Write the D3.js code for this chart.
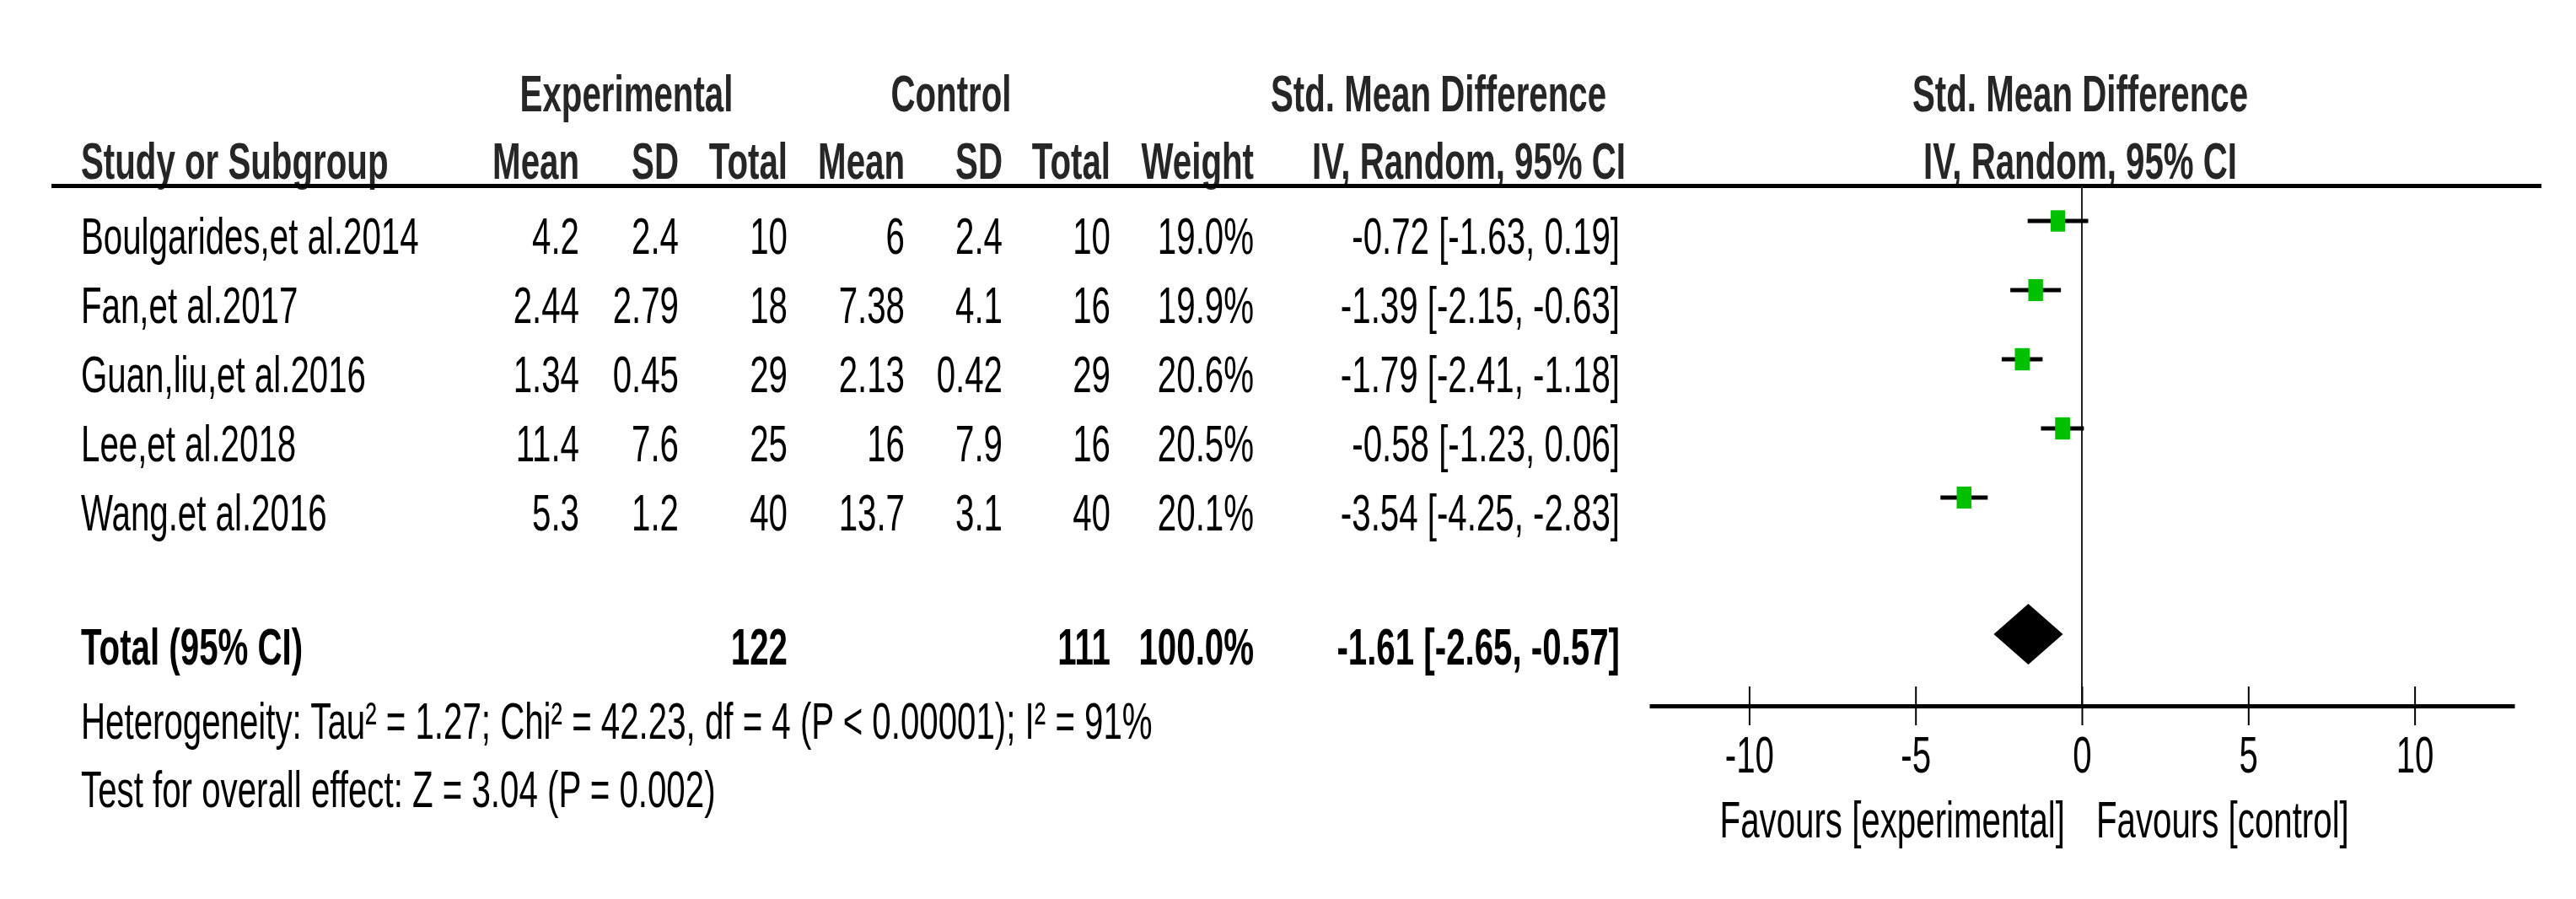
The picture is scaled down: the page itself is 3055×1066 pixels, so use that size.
<!DOCTYPE html>
<html>
<head>
<meta charset="utf-8">
<script src="https://cdn.jsdelivr.net/npm/d3@7"></script>
<style>
  body { margin: 0; background: #fff; }
  text { font-family: "Liberation Sans", Arial, sans-serif; font-size: 61px; fill: #000; }
</style>
</head>
<body>
<div id="chart"></div>
<script>
// Study data
const studies = ['Boulgarides,et al.2014', 'Fan,et al.2017', 'Guan,liu,et al.2016', 'Lee,et al.2018', 'Wang.et al.2016'];
const expMean = [4.2, 2.44, 1.34, 11.4, 5.3];
const expSD = [2.4, 2.79, 0.45, 7.6, 1.2];
const expTotal = [10, 18, 29, 25, 40];
const ctlMean = [6, 7.38, 2.13, 16, 13.7];
const ctlSD = [2.4, 4.1, 0.42, 7.9, 3.1];
const ctlTotal = [10, 16, 29, 16, 40];
const weights = [19.0, 19.9, 20.6, 20.5, 20.1];
const smd = [-0.72, -1.39, -1.79, -0.58, -3.54];
const ciLow = [-1.63, -2.15, -2.41, -1.23, -4.25];
const ciHigh = [0.19, -0.63, -1.18, 0.06, -2.83];

// Pooled result
const pooled = { expTotal: 122, ctlTotal: 111, weight: 100.0, smd: -1.61, low: -2.65, high: -0.57 };
const heterogeneity = 'Heterogeneity: Tau\u00b2 = 1.27; Chi\u00b2 = 42.23, df = 4 (P < 0.00001); I\u00b2 = 91%';
const overallEffect = 'Test for overall effect: Z = 3.04 (P = 0.002)';
const axisTicks = [-10, -5, 0, 5, 10];

const width = 3055;
const height = 1066;
const SX = 0.66; // text is condensed in the reference

const svg = d3.select('#chart').append('svg')
    .attr('width', width)
    .attr('height', height);

function txt(x, y, s, anchor, bold, color) {
    return svg.append('text')
        .attr('transform', `translate(${x},${y}) scale(${SX},1)`)
        .attr('text-anchor', anchor || 'start')
        .style('font-weight', bold ? 'bold' : 'normal')
        .style('fill', color || '#000')
        .text(s);
}

const f2 = v => v.toFixed(2);
const ciText = (m, lo, hi) => `${f2(m)} [${f2(lo)}, ${f2(hi)}]`;

// Column right edges
const col = { name: 96, eMean: 687, eSD: 805, eTot: 934, cMean: 1073, cSD: 1189, cTot: 1317, weight: 1487, ci: 1921 };

// Headers
const hc = '#262626';
txt(743, 132, 'Experimental', 'middle', true, hc);
txt(1128, 132, 'Control', 'middle', true, hc);
txt(1706, 132, 'Std. Mean Difference', 'middle', true, hc);
txt(2467, 132, 'Std. Mean Difference', 'middle', true, hc);
txt(col.name, 212, 'Study or Subgroup', 'start', true, hc);
txt(col.eMean, 212, 'Mean', 'end', true, hc);
txt(col.eSD, 212, 'SD', 'end', true, hc);
txt(col.eTot, 212, 'Total', 'end', true, hc);
txt(col.cMean, 212, 'Mean', 'end', true, hc);
txt(col.cSD, 212, 'SD', 'end', true, hc);
txt(col.cTot, 212, 'Total', 'end', true, hc);
txt(col.weight, 212, 'Weight', 'end', true, hc);
txt(1742, 212, 'IV, Random, 95% CI', 'middle', true, hc);
txt(2467, 212, 'IV, Random, 95% CI', 'middle', true, hc);

svg.append('line')
    .attr('x1', 61).attr('x2', 3014)
    .attr('y1', 220.5).attr('y2', 220.5)
    .attr('stroke', '#000').attr('stroke-width', 5);

// Scales
const x = d3.scaleLinear().domain([-13, 13]).range([1956, 2982]);
const y = d3.scalePoint().domain(studies).range([301, 629]);
const axisY = 837;
const totalY = 788;

// Table rows
studies.forEach((s, i) => {
    const yy = y(s);
    txt(col.name, yy, s);
    txt(col.eMean, yy, String(expMean[i]), 'end');
    txt(col.eSD, yy, String(expSD[i]), 'end');
    txt(col.eTot, yy, String(expTotal[i]), 'end');
    txt(col.cMean, yy, String(ctlMean[i]), 'end');
    txt(col.cSD, yy, String(ctlSD[i]), 'end');
    txt(col.cTot, yy, String(ctlTotal[i]), 'end');
    txt(col.weight, yy, weights[i].toFixed(1) + '%', 'end');
    txt(col.ci, yy, ciText(smd[i], ciLow[i], ciHigh[i]), 'end');
});

// Total row
txt(col.name, totalY, 'Total (95% CI)', 'start', true);
txt(col.eTot, totalY, String(pooled.expTotal), 'end', true);
txt(col.cTot, totalY, String(pooled.ctlTotal), 'end', true);
txt(col.weight, totalY, pooled.weight.toFixed(1) + '%', 'end', true);
txt(col.ci, totalY, ciText(pooled.smd, pooled.low, pooled.high), 'end', true);

txt(col.name, 876, heterogeneity);
txt(col.name, 957, overallEffect);

// Line of no effect
svg.append('line')
    .attr('x1', x(0)).attr('x2', x(0))
    .attr('y1', 221).attr('y2', axisY)
    .attr('stroke', '#222').attr('stroke-width', 2);

// CI lines
svg.selectAll('.ci')
    .data(studies)
    .enter().append('line')
    .attr('class', 'ci')
    .attr('x1', (d, i) => x(ciLow[i]))
    .attr('x2', (d, i) => x(ciHigh[i]))
    .attr('y1', d => y(d) - 39)
    .attr('y2', d => y(d) - 39)
    .attr('stroke', '#000')
    .attr('stroke-width', 5);

// Squares
svg.selectAll('.sq')
    .data(studies)
    .enter().append('rect')
    .attr('class', 'sq')
    .attr('width', (d, i) => 17.5 * Math.sqrt(weights[i] / 20))
    .attr('height', (d, i) => 26 * Math.sqrt(weights[i] / 20))
    .attr('x', (d, i) => x(smd[i]) - 8.75 * Math.sqrt(weights[i] / 20))
    .attr('y', (d, i) => y(d) - 39 - 13 * Math.sqrt(weights[i] / 20))
    .attr('fill', '#00c000');

// Diamond
const dy = totalY - 36;
svg.append('path')
    .attr('d', `M${x(pooled.low)},${dy} L${x(pooled.smd)},${dy - 36} L${x(pooled.high)},${dy} L${x(pooled.smd)},${dy + 36} Z`)
    .attr('fill', '#000');

// Axis
const axis = svg.append('g')
    .attr('transform', `translate(0,${axisY})`)
    .call(d3.axisBottom(x).tickValues(axisTicks).tickSizeOuter(0).tickFormat(d => String(d)));

axis.select('.domain').attr('stroke', '#000').attr('stroke-width', 5);
axis.selectAll('.tick line').attr('y1', -23).attr('y2', 23).attr('stroke', '#000').attr('stroke-width', 2);
axis.selectAll('.tick text')
    .attr('y', 79).attr('dy', null)
    .attr('transform', `scale(${SX},1)`)
    .style('font-size', '61px')
    .attr('fill', '#000');
axis.attr('font-family', null).attr('font-size', null);

txt(x(0) - 20, 993, 'Favours [experimental]', 'end');
txt(x(0) + 17, 993, 'Favours [control]', 'start');
</script>
</body>
</html>
